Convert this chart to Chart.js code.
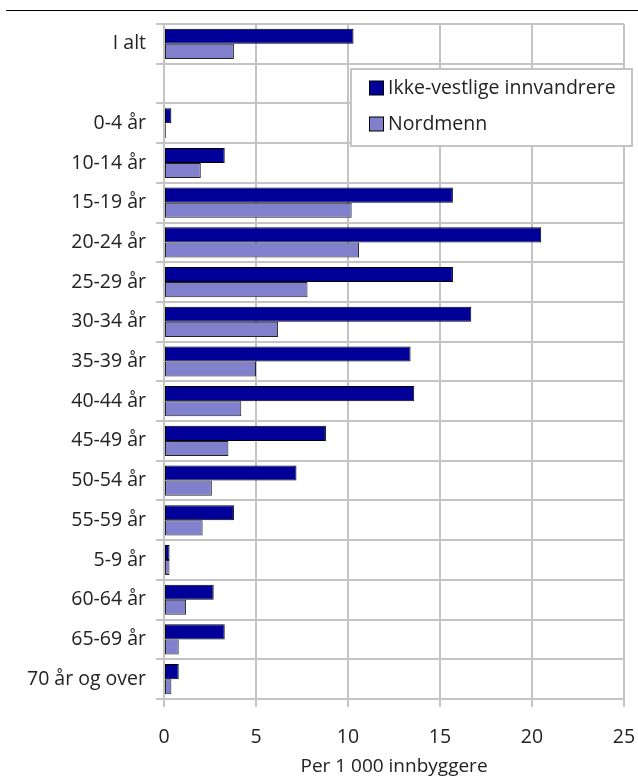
<!DOCTYPE html>
<html>
<head>
<meta charset="utf-8">
<script src="https://cdn.jsdelivr.net/npm/chart.js@4/dist/chart.umd.min.js"></script>
<style>
  html, body { margin: 0; padding: 0; background: #fff; }
  #wrap { width: 638px; height: 778px; position: relative; }
</style>
</head>
<body>
<div id="wrap"><canvas id="c" width="638" height="778"></canvas></div>
<script>
const categories = ["I alt", "", "0-4 år", "10-14 år", "15-19 år", "20-24 år", "25-29 år", "30-34 år", "35-39 år", "40-44 år", "45-49 år", "50-54 år", "55-59 år", "5-9 år", "60-64 år", "65-69 år", "70 år og over"];
const ikkeVestlige = [10.3, null, 0.4, 3.3, 15.7, 20.5, 15.7, 16.7, 13.4, 13.6, 8.8, 7.2, 3.8, 0.3, 2.7, 3.3, 0.8];
const nordmenn = [3.8, null, 0.1, 2.0, 10.2, 10.6, 7.8, 6.2, 5.0, 4.2, 3.5, 2.6, 2.1, 0.3, 1.2, 0.8, 0.4];
const xTicks = [0, 5, 10, 15, 20, 25];
const seriesNames = ["Ikke-vestlige innvandrere", "Nordmenn"];
const axisTitle = "Per 1 000 innbyggere";

const FONT = "'Open Sans', 'Noto Sans', sans-serif";
const TXT = "#222";
const GRID = "#c4c4c4";

const topLine = {
  id: 'topLine',
  beforeDraw(chart) {
    const ctx = chart.ctx;
    ctx.save();
    ctx.strokeStyle = '#000';
    ctx.lineWidth = 1;
    ctx.beginPath();
    ctx.moveTo(6, 10.5);
    ctx.lineTo(638, 10.5);
    ctx.stroke();
    ctx.restore();
  }
};

const boxLegend = {
  id: 'boxLegend',
  afterDraw(chart) {
    const ctx = chart.ctx;
    const x0 = 351, y0 = 69, w = 281, h = 77;
    ctx.save();
    ctx.fillStyle = '#fff';
    ctx.fillRect(x0, y0, w, h);
    ctx.strokeStyle = GRID;
    ctx.lineWidth = 2;
    ctx.strokeRect(x0, y0, w, h);
    ctx.font = "19.5px " + FONT;
    ctx.textBaseline = 'middle';
    chart.data.datasets.forEach((ds, i) => {
      const cy = 88 + i * 36;
      ctx.fillStyle = ds.backgroundColor;
      ctx.fillRect(369.5, cy - 7, 14, 14);
      ctx.strokeStyle = '#000';
      ctx.lineWidth = 1;
      ctx.strokeRect(369.5, cy - 7, 14, 14);
      ctx.fillStyle = TXT;
      ctx.fillText(ds.label, 388, cy);
    });
    ctx.restore();
  }
};

new Chart(document.getElementById('c'), {
  type: 'bar',
  data: {
    labels: categories,
    datasets: [
      { label: seriesNames[0], data: ikkeVestlige, backgroundColor: '#000099', borderColor: '#000000', borderWidth: 1, borderSkipped: false },
      { label: seriesNames[1], data: nordmenn, backgroundColor: '#8080cc', borderColor: '#222222', borderWidth: 1, borderSkipped: false }
    ]
  },
  options: {
    indexAxis: 'y',
    responsive: false,
    animation: false,
    devicePixelRatio: 1,
    layout: { padding: { top: 24, right: 14, left: 0, bottom: 0 } },
    plugins: { legend: { display: false }, tooltip: { enabled: false } },
    datasets: { bar: { categoryPercentage: 0.76, barPercentage: 1.0 } },
    scales: {
      y: {
        type: 'category',
        offset: true,
        afterFit(s) { s.width = 164; s.paddingTop = 0; s.paddingBottom = 0; },
        grid: { offset: true, color: GRID, lineWidth: 2, tickLength: 8, drawTicks: true },
        border: { display: true, color: GRID, width: 2 },
        ticks: { color: TXT, font: { family: FONT, size: 19.5 }, padding: 10, autoSkip: false }
      },
      x: {
        type: 'linear',
        min: 0, max: 25,
        afterFit(s) { s.height = 79; s.paddingLeft = 0; s.paddingRight = 0; },
        afterBuildTicks(s) { s.ticks = xTicks.map(v => ({ value: v })); },
        grid: { color: GRID, lineWidth: 2, tickLength: 8, drawTicks: true },
        border: { display: true, color: GRID, width: 2 },
        ticks: { color: TXT, font: { family: FONT, size: 19.5 }, padding: 19, maxRotation: 0 },
        title: { display: true, text: axisTitle, color: TXT, font: { family: FONT, size: 19 }, padding: { top: 4, bottom: 0 } }
      }
    }
  },
  plugins: [topLine, boxLegend]
});
</script>
</body>
</html>
